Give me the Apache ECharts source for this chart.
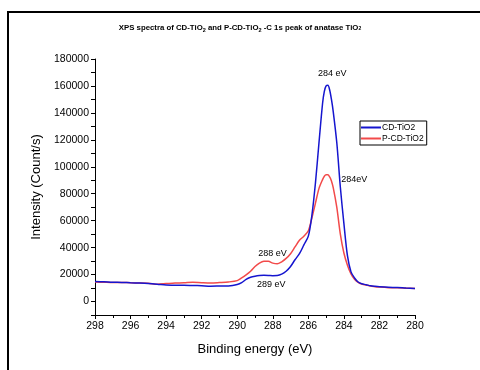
<!DOCTYPE html>
<html>
<head>
<meta charset="utf-8">
<script src="https://cdn.jsdelivr.net/npm/echarts@6/dist/echarts.min.js"></script>
<style>
  html, body { margin: 0; padding: 0; background: #fff; }
  #chart { width: 480px; height: 370px; }
</style>
</head>
<body>
<div id="chart"></div>
<script>
// binding energy (eV)
var energy = [298, 297.5, 297, 296.5, 296, 295.5, 295, 294.5, 294, 293.5, 293, 292.5, 292, 291.5, 291, 290.5,
  290, 289.75, 289.5, 289.25, 289, 288.75, 288.5, 288.25, 288, 287.75, 287.5, 287.25, 287, 286.75, 286.5, 286.25,
  286, 285.8, 285.6, 285.4, 285.2, 285.1, 285.0, 284.9, 284.8, 284.7, 284.6, 284.4, 284.2, 284.0, 283.8, 283.6,
  283.4, 283.2, 283.0, 282.75, 282.5, 282.25, 282, 281.5, 281, 280.5, 280];

// CD-TiO2 intensity (Count/s)
var cdTiO2 = [14800, 14600, 14300, 14200, 13900, 13700, 13400, 12900, 12300, 12000, 12100, 11900, 11700, 11400, 11500, 11600,
  12600, 14000, 16500, 18000, 18800, 19300, 19500, 19400, 19200, 19300, 20300, 22500, 26000, 31000, 35500, 42000,
  48500, 64000, 88000, 118000, 147000, 156000, 160000, 160500, 157000, 150000, 141000, 118000, 85000, 58000, 34000, 22000,
  17500, 14500, 13200, 12500, 11700, 11300, 11000, 10600, 10400, 10000, 9700];

// P-CD-TiO2 intensity (Count/s)
var pcdTiO2 = [14500, 14300, 14100, 14200, 13900, 13800, 13600, 12900, 13300, 13700, 13900, 14300, 14000, 13800, 14100, 14500,
  15500, 17500, 19800, 22500, 26000, 28500, 29800, 29800, 28500, 28000, 29500, 32000, 35500, 40500, 45500, 48500,
  52500, 62000, 73000, 84000, 90500, 93000, 94000, 94000, 92500, 89500, 84500, 70000, 50000, 36000, 27000, 20500,
  16500, 14200, 13000, 12200, 11600, 11000, 10700, 10300, 10200, 9900, 9600];

// peak labels written on the plot: [energy, intensity, text]
var notes = [
  [284.65, 169000, '284 eV'],
  [283.42, 90300, '284eV'],
  [288.02, 36000, '288 eV'],
  [288.09, 12300, '289 eV']
];

var seriesNames = ['CD-TiO2', 'P-CD-TiO2'];

function pairs(ys) {
  return energy.map(function(e, i) { return [e, ys[i]]; });
}

var myChart = echarts.init(document.getElementById('chart'));
var font = 'Liberation Sans, Arial, sans-serif';

var option = {
  backgroundColor: '#fff',
  animation: false,
  title: {
    text: '{a|XPS spectra of CD-TiO}{s|2}{a| and P-CD-TiO}{s|2}{a| -C 1s peak of anatase TiO}{t|2}',
    left: 'center',
    top: 17,
    textStyle: {
      rich: {
        a: { fontFamily: font, fontWeight: 'bold', fontSize: 7.8, color: '#000' },
        s: { fontFamily: font, fontWeight: 'bold', fontSize: 5.5, color: '#000', padding: [5, 0, 0, 0] },
        t: { fontFamily: font, fontWeight: 'bold', fontSize: 5, color: '#000', padding: [3, 0, 0, 0] }
      }
    }
  },
  graphic: [{
    type: 'rect',
    shape: { x: 8, y: 12, width: 520, height: 420 },
    style: { fill: 'none', stroke: '#000', lineWidth: 2 },
    silent: true
  }],
  legend: {
    data: seriesNames,
    orient: 'vertical',
    left: 360,
    top: 121,
    icon: 'rect',
    itemWidth: 20,
    itemHeight: 2,
    itemGap: 2,
    padding: [2, 3, 2, 1],
    borderColor: '#000',
    borderWidth: 1,
    textStyle: { fontFamily: font, fontSize: 8.5, color: '#000', padding: [0, 0, 0, -4] }
  },
  grid: { left: 95, right: 65, top: 59, bottom: 55 },
  xAxis: {
    type: 'value',
    inverse: true,
    min: 280,
    max: 298,
    interval: 2,
    name: 'Binding energy (eV)',
    nameLocation: 'middle',
    nameGap: 28,
    nameTextStyle: { fontFamily: font, fontSize: 13, color: '#000' },
    axisLine: { onZero: false, lineStyle: { color: '#000', width: 1 } },
    axisTick: { length: 4, lineStyle: { color: '#000' } },
    minorTick: { show: true, splitNumber: 2, length: 3, lineStyle: { color: '#000' } },
    axisLabel: { fontFamily: font, fontSize: 10.5, color: '#000', margin: 6 },
    splitLine: { show: false }
  },
  yAxis: {
    type: 'value',
    min: -10000,
    max: 180000,
    interval: 10000,
    name: 'Intensity (Count/s)',
    nameLocation: 'middle',
    nameGap: 48,
    nameTextStyle: { fontFamily: font, fontSize: 13, color: '#000' },
    axisLine: { show: true, onZero: false, lineStyle: { color: '#000', width: 1 } },
    axisTick: { length: 4, lineStyle: { color: '#000' } },
    axisLabel: {
      fontFamily: font, fontSize: 10.5, color: '#000', margin: 6,
      formatter: function(v) { return (v >= 0 && v % 20000 === 0) ? String(v) : ''; }
    },
    splitLine: { show: false }
  },
  series: [{
    name: seriesNames[0],
    type: 'line',
    data: pairs(cdTiO2),
    showSymbol: false,
    smooth: 0.3,
    color: '#1515cf',
    lineStyle: { width: 1.5 },
    z: 3,
    markPoint: {
      symbol: 'circle',
      symbolSize: 0,
      label: { show: true, position: 'inside', formatter: '{b}', fontFamily: font, fontSize: 9, color: '#000' },
      data: notes.map(function(n) { return { coord: [n[0], n[1]], name: n[2] }; })
    }
  }, {
    name: seriesNames[1],
    type: 'line',
    data: pairs(pcdTiO2),
    showSymbol: false,
    smooth: 0.3,
    color: '#f24a4a',
    lineStyle: { width: 1.5 },
    z: 2
  }]
};
myChart.setOption(option);
</script>
</body>
</html>
